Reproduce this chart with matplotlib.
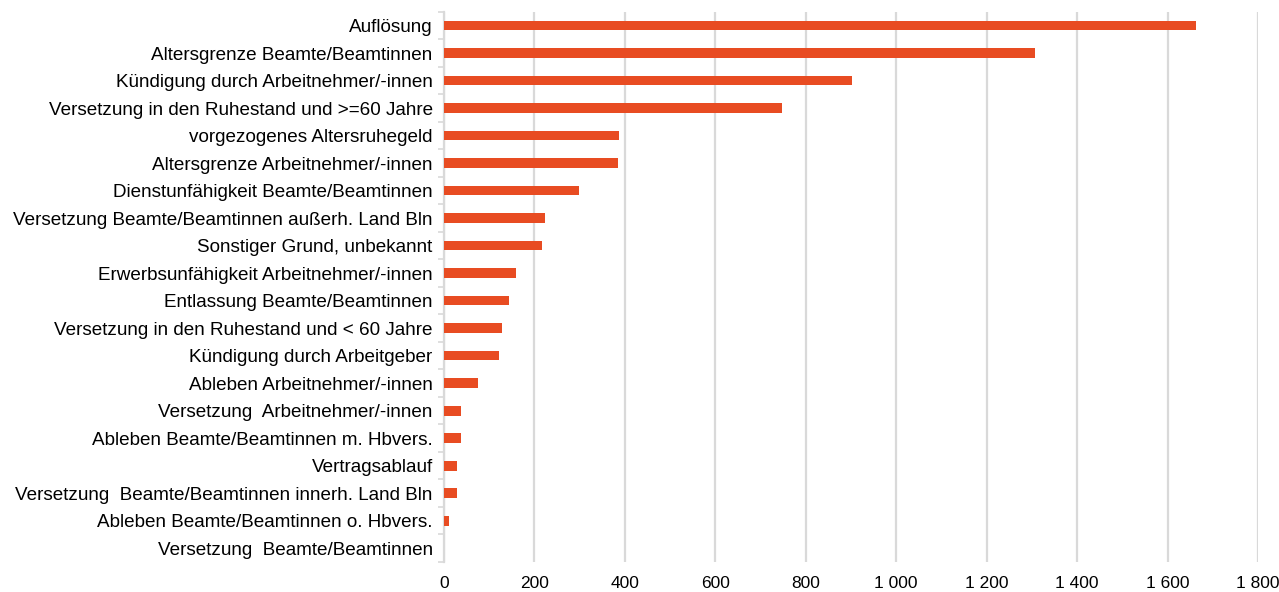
import numpy as np
import matplotlib
matplotlib.use("Agg")
import matplotlib.pyplot as plt
from matplotlib.ticker import FuncFormatter, FixedLocator

plt.rcParams['font.family'] = ['Liberation Sans', 'DejaVu Sans']

gruende = [
    "Auflösung",
    "Altersgrenze Beamte/Beamtinnen",
    "Kündigung durch Arbeitnehmer/-innen",
    "Versetzung in den Ruhestand und >=60 Jahre",
    "vorgezogenes Altersruhegeld",
    "Altersgrenze Arbeitnehmer/-innen",
    "Dienstunfähigkeit Beamte/Beamtinnen",
    "Versetzung Beamte/Beamtinnen außerh. Land Bln",
    "Sonstiger Grund, unbekannt",
    "Erwerbsunfähigkeit Arbeitnehmer/-innen",
    "Entlassung Beamte/Beamtinnen",
    "Versetzung in den Ruhestand und < 60 Jahre",
    "Kündigung durch Arbeitgeber",
    "Ableben Arbeitnehmer/-innen",
    "Versetzung  Arbeitnehmer/-innen",
    "Ableben Beamte/Beamtinnen m. Hbvers.",
    "Vertragsablauf",
    "Versetzung  Beamte/Beamtinnen innerh. Land Bln",
    "Ableben Beamte/Beamtinnen o. Hbvers.",
    "Versetzung  Beamte/Beamtinnen",
]
anzahl = [1662, 1308, 902, 747, 388, 386, 298, 223, 216, 159,
          145, 128, 122, 75, 39, 39, 30, 29, 12, 0]

x_ticks = list(range(0, 2000, 200))

fig = plt.figure(figsize=(12.79, 5.92), dpi=100)
ax = fig.add_axes([0.347, 0.0507, 0.6366, 0.9293])

pos = np.arange(len(gruende))
ax.barh(pos, anzahl, height=0.35, color="#E84C22", zorder=3)

ax.set_ylim(len(gruende) - 0.5, -0.5)
ax.set_xlim(0, 1800)
ax.set_yticks(pos)
ax.set_yticklabels(gruende, fontsize=13.6)
ax.tick_params(axis="y", length=0, pad=8)
ax.yaxis.set_minor_locator(FixedLocator(np.arange(-0.5, len(gruende), 1)))
ax.tick_params(axis="y", which="minor", length=4, width=1.2, color="#d9d9d9")

ax.set_xticks(x_ticks)
ax.xaxis.set_major_formatter(FuncFormatter(lambda v, p: f"{int(v):,}".replace(",", " ")))
ax.tick_params(axis="x", length=0, labelsize=12.5, pad=10)
ax.grid(axis="x", color="#d9d9d9", linewidth=1.6, zorder=0)

for s in ["top", "right", "bottom"]:
    ax.spines[s].set_visible(False)
ax.spines["left"].set_color("#d9d9d9")
ax.spines["left"].set_linewidth(1.6)

fig.savefig("out.png", dpi=100)
